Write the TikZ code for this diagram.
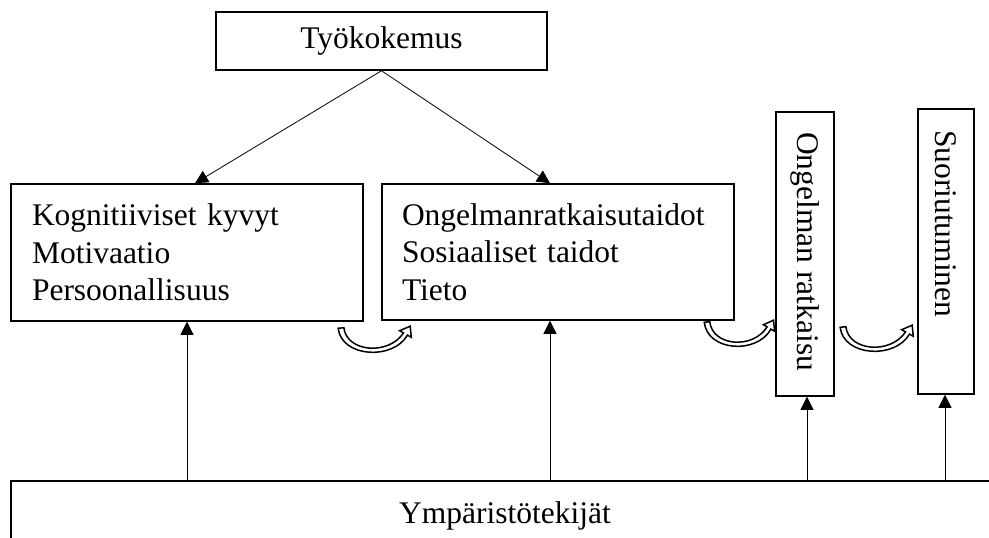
\documentclass[tikz,border=0pt]{standalone}
\usepackage{fontspec}
\setmainfont{Liberation Serif}
\usetikzlibrary{arrows.meta}
\begin{document}
\begin{tikzpicture}[x=1pt,y=-1pt,
  box/.style={draw, line width=1.5pt, inner sep=0pt},
  conn/.style={line width=0.8pt, -{Triangle[width=13pt,length=13pt]}},
  txt/.style={font=\fontsize{31.5}{37.5}\selectfont},
  curvarr/.pic={
    \draw[line width=1.5pt, fill=white, line join=miter]
      (-2.75,0.3) .. controls (0.5,29.5) and (50,32.5) .. (63.9,7.1)
      -- (67.6,9.3) -- (66.5,-1.8) -- (56.4,2.7) -- (60.1,4.9)
      .. controls (46,27.5) and (5.5,24.5) .. (2.75,-0.3) -- cycle;
  }]
\useasboundingbox (0,0) rectangle (989,538);
% boxes
\node[box, txt, minimum width=331, minimum height=58] (tk) at (381.5,41) {Työkokemus};
\node[box, txt, text width=310, inner xsep=21, inner ysep=0, minimum height=137, align=left] (lb) at (187,252.5)
  {Kognitiiviset kyvyt\\Motivaatio\\Persoonallisuus};
\node[box, txt, text width=312, inner xsep=20, inner ysep=0, minimum height=136, align=left] (rb) at (558,252)
  {Ongelmanratkaisutaidot\\Sosiaaliset taidot\\Tieto};
\node[box, minimum width=58, minimum height=284] (orb) at (805,254) {};
\node[box, minimum width=56, minimum height=285] (srb) at (946,251.5) {};
\node[txt, rotate=-90, anchor=base west, inner sep=0] (ort) at (797,132) {Ongelman ratkaisu};
\node[txt, rotate=-90, anchor=base west, inner sep=0] (srt) at (935,130) {Suoriutuminen};
\node[box, minimum width=982, minimum height=76] (yb) at (502,519) {};
\node[txt, anchor=base, inner sep=0] (ybt) at (505,523) {Ympäristötekijät};
% helper coordinates for connector x positions
\coordinate (c1) at (195,0);
\coordinate (c2) at (550,0);
\coordinate (c4) at (807,0);
\coordinate (c5) at (945,0);
% connectors
\draw[conn] (tk.south) -- (lb.north -| c1);
\draw[conn] (tk.south) -- (rb.north -| c2);
\draw[conn] (yb.north -| lb.south) -- (lb.south);
\draw[conn] (yb.north -| c2) -- (rb.south -| c2);
\draw[conn] (yb.north -| c4) -- (orb.south -| c4);
\draw[conn] (yb.north -| c5) -- (srb.south -| c5);
% curved arrows
\pic[xscale=1.04] at (341,328) {curvarr};
\pic at (707,322) {curvarr};
\pic[xscale=1.04] at (843,327) {curvarr};
\end{tikzpicture}
\end{document}
